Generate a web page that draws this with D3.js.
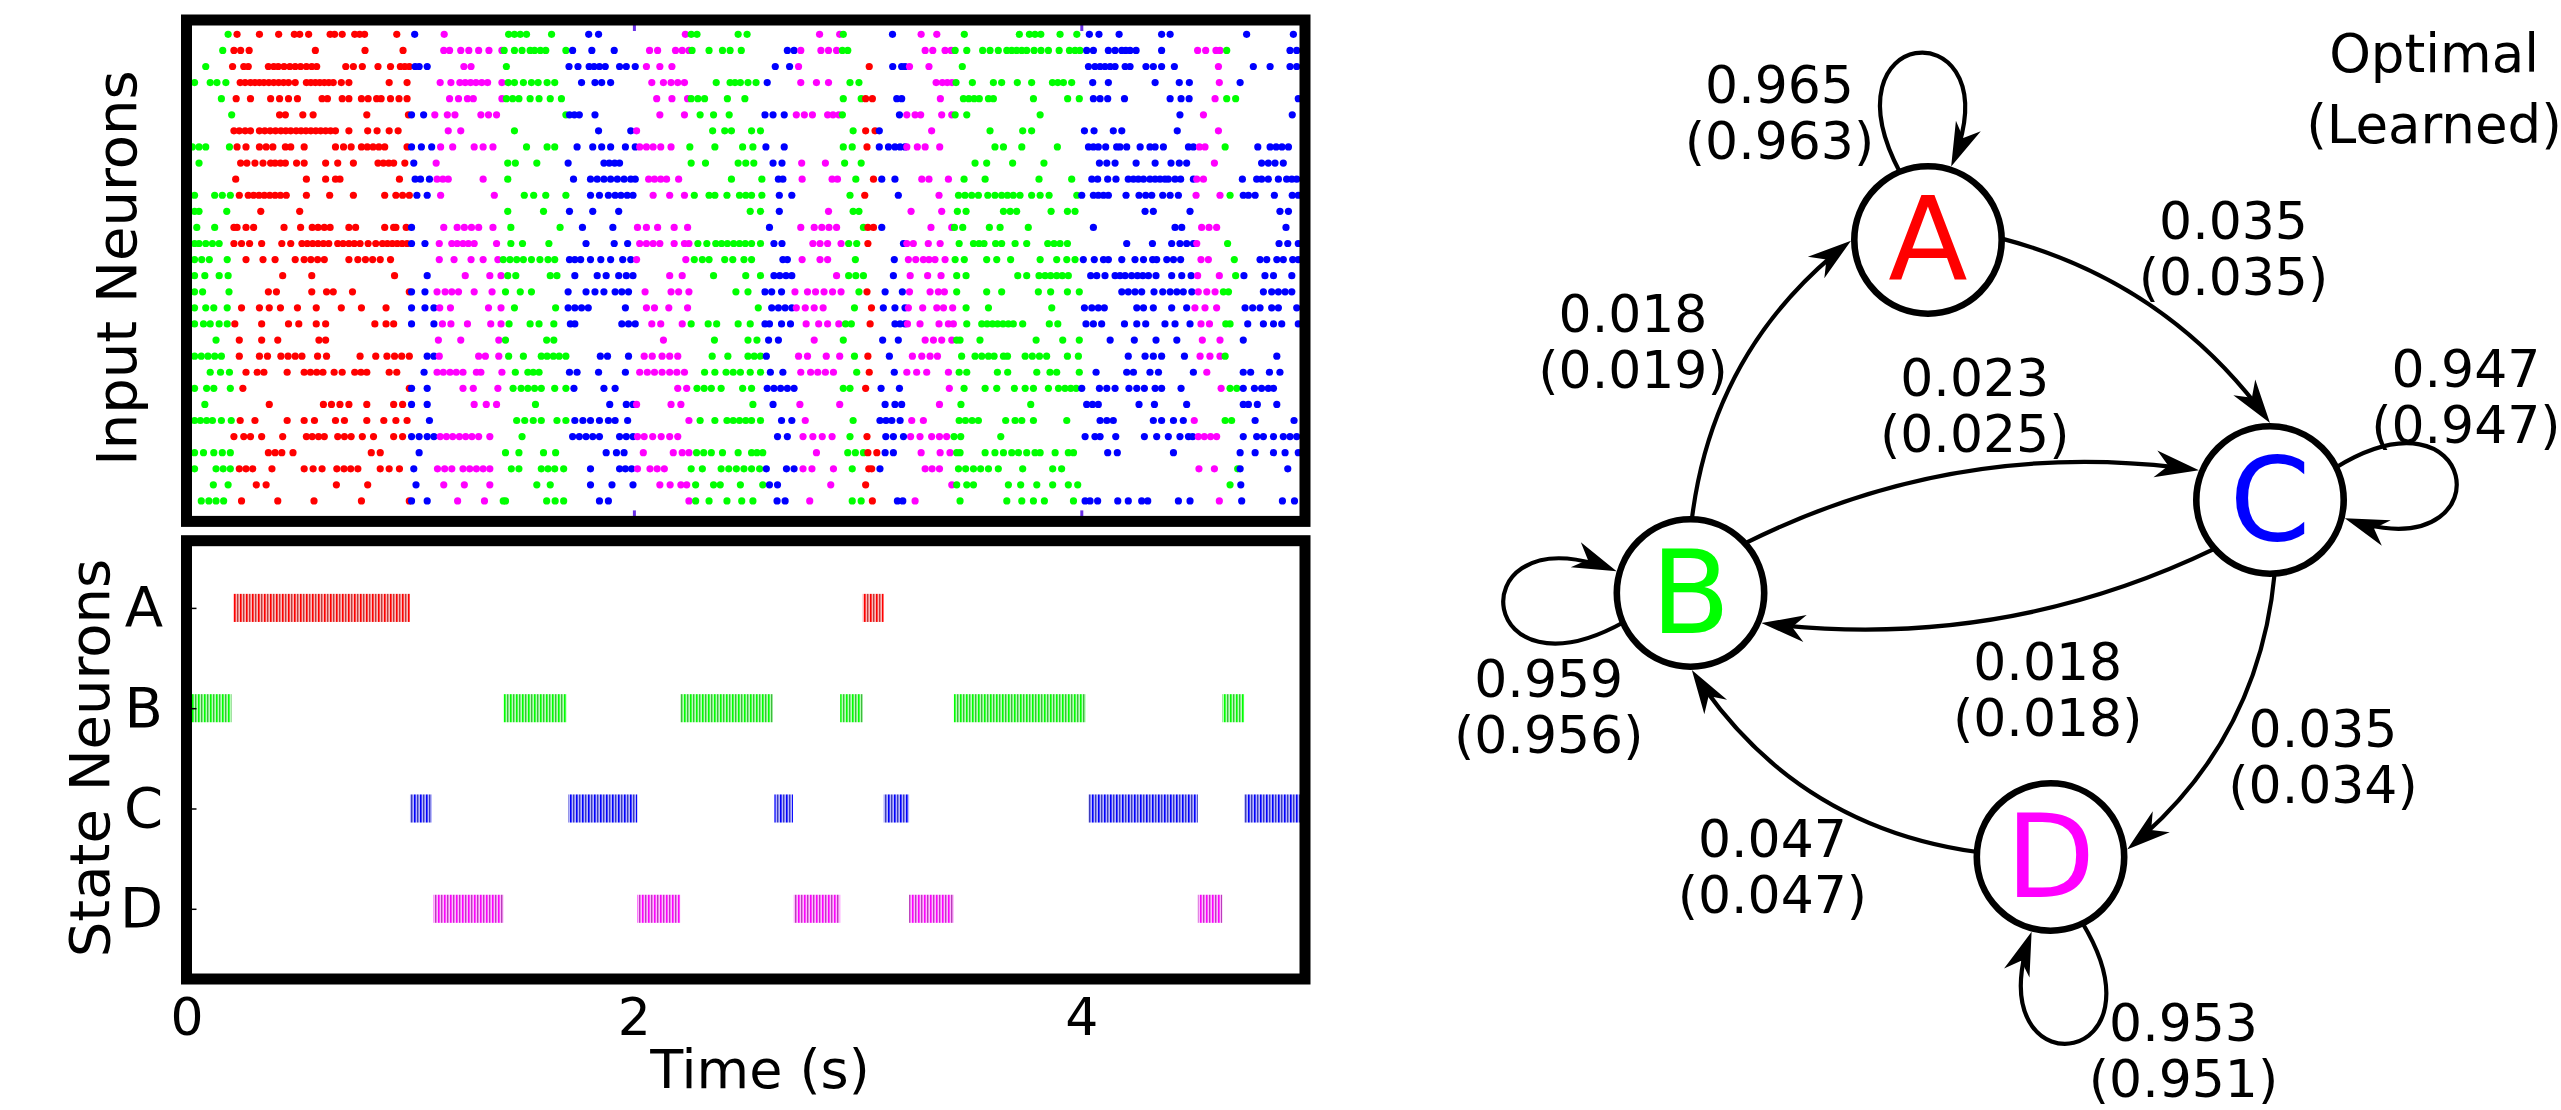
<!DOCTYPE html>
<html>
<head>
<meta charset="utf-8">
<script src="https://cdn.jsdelivr.net/npm/d3@7"></script>
<style>
  html, body { margin: 0; padding: 0; background: #fff; }
  svg { display: block; font-family: 'DejaVu Sans', sans-serif; }
</style>
</head>
<body>
<svg id="chart" width="2561" height="1110"></svg>
<script>
// ---------------- data ----------------
const stateNames = ['A', 'B', 'C', 'D'];
const stateColors = { A: '#ff0000', B: '#00ff00', C: '#0000ff', D: '#ff00ff' };

// hidden state driving the input neurons: [state, start ms, end ms]
const trueStates = [
  ['B', 0, 204], ['A', 204, 1002], ['C', 1002, 1110], ['D', 1110, 1413],
  ['B', 1413, 1701], ['C', 1701, 2009], ['D', 2009, 2250], ['B', 2250, 2580],
  ['C', 2580, 2720], ['D', 2720, 2929], ['B', 2929, 3029], ['A', 3029, 3090],
  ['C', 3090, 3217], ['D', 3217, 3430], ['B', 3430, 4000], ['C', 4000, 4503],
  ['D', 4503, 4628], ['B', 4628, 4705], ['C', 4705, 5000]
];

// input neuron spike times in ms, top row first
const inputSpikes = [
  [186,226,326,412,482,506,546,642,662,696,752,774,796,940,1020,1152,1440,1466,1492,1520,1632,1798,1842,2230,2256,2282,2466,2506,2830,2920,2936,3156,3284,3354,3477,3723,3768,3793,3819,3905,3980,4036,4079,4169,4359,4397,4739,4948],
  [162,212,242,280,576,798,968,1150,1176,1226,1262,1306,1352,1410,1420,1466,1500,1536,1556,1582,1606,1696,1726,1812,1912,2070,2106,2186,2216,2246,2260,2336,2396,2430,2480,2686,2716,2746,2836,2870,2906,2932,2956,3302,3336,3391,3418,3436,3488,3559,3592,3629,3667,3689,3711,3734,3756,3789,3820,3853,3901,3947,3972,3994,4024,4054,4121,4151,4181,4199,4218,4245,4359,4520,4556,4602,4620,4650,4933,4963],
  [86,206,256,276,366,390,410,436,462,486,510,536,560,582,712,746,786,856,912,956,976,996,1022,1040,1076,1240,1272,1430,1710,1750,1800,1822,1846,1872,1936,1966,2006,2056,2116,2170,2632,2696,2736,3052,3157,3197,3212,3232,3319,3468,4032,4061,4084,4106,4129,4151,4196,4218,4289,4322,4359,4416,4613,4769,4844,4933,4963],
  [36,106,136,176,240,262,286,306,326,346,368,390,412,434,456,486,536,556,576,596,616,636,656,692,726,906,986,1134,1182,1222,1246,1270,1294,1320,1346,1410,1438,1466,1506,1542,1572,1612,1646,1766,1826,1856,1896,2080,2132,2166,2196,2226,2368,2430,2452,2476,2510,2546,2596,2746,2816,2870,2966,3006,3351,3379,3401,3422,3440,3513,3607,3644,3714,3778,3871,3895,3920,3957,4051,4121,4330,4438,4483,4617,4710],
  [156,222,286,376,416,456,496,606,630,696,726,782,812,850,870,912,950,986,1176,1216,1256,1282,1410,1430,1458,1486,1536,1576,1626,1676,2102,2170,2240,2256,2286,2316,2418,2496,2936,3016,3036,3066,3175,3197,3370,3473,3497,3521,3544,3585,3607,3786,3939,3991,4054,4084,4118,4193,4397,4446,4482,4598,4650,4690,4970],
  [202,416,442,520,566,806,992,1006,1060,1110,1166,1200,1316,1350,1386,1696,1712,1734,1756,1826,2116,2226,2296,2356,2426,2586,2622,2672,2726,2762,2798,2866,2890,2916,2932,3187,3220,3257,3282,3376,3421,3436,3488,3816,4441,4546,4943],
  [212,236,262,286,326,350,374,398,422,444,466,490,512,534,556,578,600,622,644,666,726,810,852,906,946,1170,1226,1466,1842,1986,2012,2352,2406,2436,2526,2566,2980,3036,3078,3097,3331,3592,3738,3778,4014,4057,4143,4181,4429,4613],
  [26,56,86,192,226,266,326,356,386,442,466,526,666,702,736,782,808,834,860,886,986,1006,1050,1096,1136,1190,1286,1326,1370,1520,1612,1646,1746,1816,1856,1896,1962,2006,2026,2056,2086,2120,2166,2250,2362,2486,2532,2590,2672,2936,2976,3042,3097,3138,3167,3190,3212,3220,3267,3302,3367,3614,3652,3734,3893,4032,4054,4076,4109,4158,4173,4203,4263,4307,4330,4367,4479,4501,4528,4553,4643,4789,4844,4871,4897,4926],
  [56,242,270,306,342,376,396,420,442,492,526,622,676,746,856,880,904,926,976,1016,1116,1436,1470,1566,1706,1866,1890,1914,1936,2256,2320,2466,2500,2536,2622,2662,2750,2856,2942,3016,3525,3577,3693,3833,4081,4114,4151,4245,4330,4401,4438,4471,4595,4806,4836,4866,4903],
  [220,536,622,666,686,952,1022,1046,1086,1120,1146,1170,1326,1436,1730,1806,1836,1866,1896,1926,1956,1986,2006,2066,2092,2120,2146,2200,2436,2572,2646,2666,2752,2886,2910,2992,3071,3108,3167,3287,3319,3406,3476,3570,3811,3957,4047,4073,4118,4155,4210,4233,4255,4278,4307,4330,4352,4374,4389,4419,4444,4501,4516,4546,4720,4784,4806,4836,4881,4918,4941,4963],
  [36,126,160,196,236,276,300,324,348,372,396,420,446,536,640,746,886,936,966,996,1030,1076,1136,1376,1510,1552,1606,1696,1806,1846,1886,1916,1942,1970,1996,2086,2160,2226,2270,2336,2362,2416,2472,2500,2526,2572,2650,2706,2966,3032,3182,3364,3451,3480,3510,3540,3582,3614,3644,3670,3696,3726,3778,3816,3856,3980,4002,4054,4076,4099,4121,4200,4258,4288,4315,4364,4397,4434,4513,4620,4665,4724,4747,4777,4863,4943,4970],
  [36,56,180,332,506,1436,1596,1712,1816,1932,2520,2566,2650,2870,2980,3006,3239,3376,3446,3485,3652,3682,3711,3865,3938,3972,4285,4322,4486,4888,4926],
  [46,126,212,226,266,300,436,510,562,588,616,642,726,756,886,926,936,982,1006,1150,1210,1242,1274,1306,1370,1450,1670,1770,1906,2016,2056,2106,2180,2240,2606,2746,2806,2840,2872,2906,3026,3046,3071,3108,3328,3421,3433,3470,3589,3637,3763,4054,4419,4449,4538,4571,4605,4915],
  [36,56,86,116,146,212,246,282,336,426,466,516,540,564,588,612,636,676,700,726,750,776,812,846,876,898,920,942,964,986,1006,1066,1130,1186,1210,1236,1260,1286,1386,1450,1502,1620,1786,1912,1972,2026,2056,2086,2116,2180,2226,2246,2286,2326,2366,2392,2418,2446,2472,2498,2526,2566,2626,2662,2800,2832,2866,2926,2960,2996,3046,3205,3220,3249,3316,3369,3454,3518,3543,3565,3617,3644,3704,3756,3850,3878,3905,3938,4203,4318,4404,4441,4471,4501,4516,4654,4884,4923,4970],
  [36,68,102,182,266,342,396,486,526,556,586,616,726,766,800,832,866,912,1130,1196,1272,1326,1392,1416,1446,1476,1506,1542,1580,1616,1646,1712,1736,1762,1806,1852,1896,1950,1986,2012,2232,2270,2306,2336,2406,2442,2492,2526,2666,2686,2752,2832,2866,2990,3164,3227,3260,3294,3319,3346,3391,3436,3477,3577,3622,3684,3816,3890,3935,3972,4009,4058,4099,4121,4181,4240,4278,4319,4337,4382,4412,4444,4535,4568,4684,4799,4829,4874,4903,4945,4970],
  [36,82,146,186,430,560,930,1076,1246,1356,1406,1436,1472,1626,1656,1736,1836,1876,1932,1966,1996,2160,2216,2356,2500,2566,2626,2652,2680,2706,2906,2960,2992,3026,3160,3235,3313,3373,3443,3485,3716,3756,3811,3838,3863,3890,3915,3942,4042,4069,4106,4151,4173,4196,4225,4251,4275,4300,4334,4404,4449,4491,4520,4617,4690,4727,4821,4859,4941],
  [36,72,190,366,402,560,626,656,742,996,1006,1066,1120,1156,1186,1216,1286,1366,1426,1492,1542,1706,1786,1826,1866,1916,1946,1976,2050,2166,2200,2246,2456,2510,2586,2616,2660,2720,2776,2812,2850,2888,2926,3006,3042,3123,3200,3232,3324,3361,3388,3443,3577,3644,3808,3863,3938,3991,4181,4210,4240,4270,4325,4364,4397,4427,4456,4494,4523,4561,4598,4635,4658,4814,4851,4881,4911,4941],
  [36,86,122,182,246,326,370,420,496,580,692,782,892,1006,1066,1106,1132,1180,1350,1406,1466,1650,1706,1736,1766,1796,1962,2056,2092,2156,2240,2556,2616,2646,2676,2706,2726,2766,2806,2846,2986,3062,3115,3167,3212,3227,3291,3354,3384,3425,3485,3585,3868,4014,4047,4076,4103,4248,4278,4322,4404,4471,4508,4553,4605,4732,4766,4799,4851,4881,4963],
  [36,76,106,146,182,216,336,456,502,580,622,842,892,926,1006,1106,1144,1182,1256,1360,1406,1442,1536,1576,1642,1716,1736,1946,1976,2006,2080,2120,2216,2256,2332,2370,2466,2520,2586,2606,2660,2700,2770,2826,2866,2916,2946,2972,3056,3167,3190,3212,3223,3279,3364,3406,3428,3488,3555,3579,3603,3626,3650,3674,3696,3738,3857,3895,4021,4054,4091,4193,4248,4288,4374,4419,4486,4535,4573,4646,4665,4744,4814,4859,4896,4970],
  [132,236,336,408,592,622,1126,1226,1396,1426,1610,1642,2132,2360,2510,2550,2602,2646,2806,2936,3112,3182,3302,3339,3376,3421,3443,3458,3547,3798,3917,3991,4129,4237,4334,4427,4541,4620,4724],
  [36,66,96,126,156,236,326,362,422,454,486,516,586,626,776,846,896,930,962,996,1076,1106,1130,1306,1336,1396,1440,1506,1586,1612,1640,1666,1696,1850,1882,1976,2046,2082,2126,2160,2196,2350,2420,2510,2538,2566,2592,2736,2776,2860,2920,2986,3046,3142,3245,3287,3324,3357,3465,3525,3555,3585,3610,3652,3670,3749,3781,3813,3845,3938,3987,4210,4285,4322,4359,4461,4531,4575,4620,4643,4874],
  [106,152,192,266,316,346,450,526,554,582,610,660,696,752,780,806,906,940,1062,1120,1148,1178,1206,1236,1296,1316,1410,1470,1526,1550,1576,1712,1746,1842,1962,2026,2060,2092,2126,2160,2192,2226,2316,2362,2412,2444,2476,2520,2566,2610,2666,2746,2790,2822,2856,2892,2996,3052,3164,3220,3264,3309,3406,3454,3488,3625,3671,3801,3860,3890,3991,4066,4203,4233,4307,4345,4501,4561,4724,4757,4841,4888],
  [36,90,122,196,252,996,1006,1076,1236,1282,1392,1460,1496,1526,1556,1586,1646,1696,1732,1866,1916,2196,2236,2282,2314,2346,2390,2486,2526,2596,2626,2656,2686,2716,2936,2966,3036,3105,3187,3410,3476,3570,3622,3701,3749,3786,3853,3898,3927,3953,3977,4002,4081,4114,4151,4213,4248,4282,4330,4359,4446,4625,4665,4695,4724,4774,4806,4836,4859],
  [82,370,612,648,686,726,806,926,966,1006,1076,1286,1340,1386,1560,1892,1966,1996,2012,2166,2210,2532,2622,2742,2920,3123,3167,3197,3366,3462,3774,4024,4050,4076,4258,4327,4471,4724,4747,4787,4874],
  [36,62,90,116,156,200,240,306,450,526,572,666,706,806,882,936,986,1086,1476,1512,1550,1586,1656,1696,1736,1772,1806,1846,1886,1916,1972,2246,2296,2362,2416,2444,2472,2500,2526,2566,2660,2706,2766,2980,3100,3127,3153,3190,3242,3294,3454,3482,3512,3540,3662,3704,3734,3786,3935,4084,4114,4143,4322,4359,4412,4456,4505,4643,4672,4777,4951],
  [212,256,286,336,430,536,562,590,616,676,706,736,786,836,926,966,1006,1040,1076,1106,1134,1162,1190,1220,1248,1276,1306,1356,1500,1726,1756,1786,1816,1846,1936,1966,1996,2016,2046,2084,2122,2160,2196,2642,2686,2756,2800,2842,2886,2966,3042,3126,3160,3205,3237,3279,3331,3366,3398,3431,3461,3640,4017,4061,4084,4154,4282,4337,4389,4441,4479,4498,4523,4550,4578,4605,4724,4784,4814,4859,4903,4933,4963],
  [36,76,122,160,196,366,396,426,476,826,866,1040,1426,1486,1596,1650,1876,1922,1956,2042,2176,2216,2246,2280,2312,2346,2396,2466,2526,2550,2576,2816,2956,2990,3026,3046,3086,3123,3160,3284,3369,3413,3443,3458,3570,3614,3652,3689,3719,3756,3793,3816,3883,3942,3965,4118,4161,4412,4710,4777,4859,4911,4970],
  [36,132,164,196,236,266,296,382,526,566,606,672,704,734,766,866,906,952,1016,1122,1154,1186,1236,1266,1296,1326,1356,1452,1486,1586,1616,1646,1686,1806,1936,1962,1990,2016,2072,2104,2136,2256,2306,2390,2424,2458,2492,2526,2562,2592,2682,2716,2756,2796,2892,2976,3050,3063,3100,3302,3333,3366,3451,3483,3518,3550,3585,3629,3738,3872,3912,4526,4595,4699,4710,4923],
  [120,186,312,356,670,810,1026,1150,1242,1356,1566,1626,1806,1902,1996,2116,2162,2210,2236,2276,2356,2386,2476,2576,2606,2642,2880,3036,3421,3443,3488,3518,3674,3729,3801,3872,3942,3984,4665,4713],
  [66,100,132,166,246,408,570,782,996,1006,1076,1212,1332,1416,1426,1610,1648,1686,1846,1886,2246,2276,2336,2416,2482,2532,2640,2676,2786,2976,3016,3066,3178,3202,3257,3458,3667,3734,3786,3835,3965,4017,4039,4073,4163,4210,4270,4297,4434,4486,4617,4717,4899,4953]
];

// state neuron bursts, [start s, end s]
const burstsA = [[0.209, 0.999], [3.023, 3.117]];
const burstsB = [[0.0, 0.201], [1.417, 1.699], [2.207, 2.621], [2.922, 3.023], [3.430, 4.020], [4.630, 4.728]];
const burstsC = [[0.999, 1.097], [1.706, 2.015], [2.628, 2.711], [3.117, 3.230], [4.032, 4.521], [4.728, 5.0]];
const burstsD = [[1.104, 1.417], [2.015, 2.207], [2.715, 2.922], [3.230, 3.430], [4.521, 4.630]];

const timeTicks = [0, 2, 4];

// transition probabilities: optimal and (learned)
const transitions = [
  { from: 'A', to: 'A', optimal: 0.965, learned: 0.963 },
  { from: 'A', to: 'C', optimal: 0.035, learned: 0.035 },
  { from: 'B', to: 'A', optimal: 0.018, learned: 0.019 },
  { from: 'B', to: 'B', optimal: 0.959, learned: 0.956 },
  { from: 'B', to: 'C', optimal: 0.023, learned: 0.025 },
  { from: 'C', to: 'B', optimal: 0.018, learned: 0.018 },
  { from: 'C', to: 'C', optimal: 0.947, learned: 0.947 },
  { from: 'C', to: 'D', optimal: 0.035, learned: 0.034 },
  { from: 'D', to: 'B', optimal: 0.047, learned: 0.047 },
  { from: 'D', to: 'D', optimal: 0.953, learned: 0.951 }
];

// ---------------- layout ----------------
const svg = d3.select('#chart');
const panelX = [186.5, 1305];
const inputY = [20, 521.4];
const stateY = [540.7, 979];
const frameWidth = 11;

// graph layout (local px, origin at B.x / A.y)
const graphOrigin = [1690.5, 240];
const nodeAt = { A: [237.5, 0], B: [0, 353], C: [579.5, 260], D: [360, 617] };
const nodeR = 73.7, nodeStroke = 6.6, nodeOuter = 77;
// edges between states: exit angle, entry angle (deg, screen), bend
const edgeShape = {
  'A-C': { out: -1.3, in: -90, bend: 0.18 },
  'B-A': { out: -89, in: 179.5, bend: 0.21 },
  'B-C': { out: -42.5, in: 202.7, bend: 0.157 },
  'C-B': { out: 138.4, in: 23, bend: 0.147 },
  'C-D': { out: 86.3, in: -5.6, bend: 0.21 },
  'D-B': { out: 183.9, in: 89, bend: 0.23 },
  'A-A': { dir: -92.5 }, 'B-B': { dir: 176.4 }, 'C-C': { dir: -6.2 }, 'D-D': { dir: 84.2 }
};
const labelAt = {
  'A-A': [89, -137], 'A-C': [543, -1], 'B-A': [-57.5, 92], 'B-C': [284.2, 156],
  'C-C': [775.4, 147], 'B-B': [-141.8, 457], 'C-B': [357.2, 440], 'C-D': [632.5, 507],
  'D-B': [81.9, 617], 'D-D': [493, 801]
};

// ---------------- scales ----------------
const x = d3.scaleLinear().domain([0, 5]).range(panelX);
const yIn = d3.scaleLinear().domain([-0.89, 30.27]).range(inputY);
const yState = d3.scaleLinear().domain([-0.67, 3.7]).range(stateY);
const fmt = d3.format('.3f');

function stateAt(ms) {
  const seg = trueStates.find(s => ms >= s[1] && ms < s[2]);
  return seg ? seg[0] : 'C';
}

svg.append('rect').attr('width', 2561).attr('height', 1110).attr('fill', '#fff');
const defs = svg.append('defs');

defs.append('clipPath').attr('id', 'clip-in').append('rect')
  .attr('x', panelX[0]).attr('y', inputY[0])
  .attr('width', panelX[1] - panelX[0]).attr('height', inputY[1] - inputY[0]);
defs.append('clipPath').attr('id', 'clip-state').append('rect')
  .attr('x', panelX[0]).attr('y', stateY[0])
  .attr('width', panelX[1] - panelX[0]).attr('height', stateY[1] - stateY[0]);

// thin spike-line texture for the state neuron bursts
stateNames.forEach(s => {
  const c = stateColors[s];
  const p = defs.append('pattern').attr('id', 'burst-' + s)
    .attr('patternUnits', 'userSpaceOnUse').attr('width', 6).attr('height', 10);
  p.append('rect').attr('width', 6).attr('height', 10).attr('fill', d3.interpolateRgb(c, '#fff')(0.72));
  p.append('rect').attr('x', 0).attr('width', 1.6).attr('height', 10).attr('fill', c);
  p.append('rect').attr('x', 3).attr('width', 1.4).attr('height', 10).attr('fill', d3.interpolateRgb(c, '#777')(0.5));
});

// ---------------- input raster ----------------
const dots = inputSpikes.flatMap((row, i) => row.map(ms => ({ row: i, ms })));
svg.append('g').attr('clip-path', 'url(#clip-in)')
  .selectAll('circle').data(dots).join('circle')
  .attr('cx', d => x(d.ms / 1000))
  .attr('cy', d => yIn(d.row))
  .attr('r', 3.6)
  .attr('fill', d => stateColors[stateAt(d.ms)]);

// small inward ticks on the raster
[[inputY[0], d3.axisTop], [inputY[1], d3.axisBottom]].forEach(([yy, ax]) => {
  svg.append('g').attr('transform', `translate(0,${yy})`)
    .call(ax(x).tickValues(timeTicks).tickSizeInner(-11).tickSizeOuter(0).tickFormat(''))
    .call(g => g.select('.domain').remove())
    .call(g => g.selectAll('.tick line').attr('stroke', '#6a30e8').attr('stroke-width', 3));
});

// ---------------- state neurons ----------------
const bursts = [
  ...burstsA.map(b => ({ s: 'A', b })), ...burstsB.map(b => ({ s: 'B', b })),
  ...burstsC.map(b => ({ s: 'C', b })), ...burstsD.map(b => ({ s: 'D', b }))
];
svg.append('g').attr('clip-path', 'url(#clip-state)')
  .selectAll('rect').data(bursts).join('rect')
  .attr('x', d => x(d.b[0]))
  .attr('width', d => x(d.b[1]) - x(d.b[0]))
  .attr('y', d => yState(stateNames.indexOf(d.s) - 0.14))
  .attr('height', d => yState(0.28) - yState(0))
  .attr('fill', d => `url(#burst-${d.s})`);

svg.append('g').attr('transform', `translate(${panelX[0]},0)`)
  .call(d3.axisLeft(yState).tickValues([0, 1, 2, 3]).tickFormat(i => stateNames[i])
    .tickSizeInner(-10).tickSizeOuter(0).tickPadding(23.5))
  .call(g => g.select('.domain').remove())
  .call(g => g.selectAll('.tick line').attr('stroke', '#000').attr('stroke-width', 1.5))
  .call(g => g.selectAll('text').attr('fill', '#000').style('font-size', '56px')
    .style('font-family', 'DejaVu Sans'));

svg.append('g').attr('transform', `translate(0,${stateY[1]})`)
  .call(d3.axisBottom(x).tickValues(timeTicks).tickFormat(d3.format('d')).tickSize(0).tickPadding(19.5))
  .call(g => g.select('.domain').remove())
  .call(g => g.selectAll('text').attr('fill', '#000').style('font-size', '52px')
    .style('font-family', 'DejaVu Sans'));

// frames
[inputY, stateY].forEach(yy => {
  svg.append('rect')
    .attr('x', panelX[0]).attr('y', yy[0])
    .attr('width', panelX[1] - panelX[0]).attr('height', yy[1] - yy[0])
    .attr('fill', 'none').attr('stroke', '#000').attr('stroke-width', frameWidth);
});

// axis titles
svg.append('text').attr('transform', 'translate(136,268) rotate(-90)')
  .attr('text-anchor', 'middle').style('font-size', '56px').text('Input Neurons');
svg.append('text').attr('transform', 'translate(109.4,758) rotate(-90)')
  .attr('text-anchor', 'middle').style('font-size', '56px').text('State Neurons');
svg.append('text').attr('x', 760).attr('y', 1088)
  .attr('text-anchor', 'middle').style('font-size', '54px').text('Time (s)');

// ---------------- transition graph ----------------
const g = svg.append('g').attr('transform', `translate(${graphOrigin[0]},${graphOrigin[1]})`);
const rad = a => a * Math.PI / 180;
const polar = (c, r, a) => [c[0] + r * Math.cos(rad(a)), c[1] + r * Math.sin(rad(a))];
const lerp = (p, q, t) => [p[0] + (q[0] - p[0]) * t, p[1] + (q[1] - p[1]) * t];
const dist = (p, q) => Math.hypot(p[0] - q[0], p[1] - q[1]);
const arrowLen = 44, arrowHalf = 13.5, arrowNotch = 31, trimLen = 22;
const LOOP_K = 247.6, LOOP_PHI = 23.8, LOOP_SPREAD = 20;

function edgeGeometry(e) {
  const sh = edgeShape[e.from + '-' + e.to];
  const s = nodeAt[e.from], t = nodeAt[e.to];
  if (e.from === e.to) {
    const S = polar(s, nodeOuter - 4, sh.dir - LOOP_SPREAD);
    const E = polar(s, nodeOuter, sh.dir + LOOP_SPREAD);
    const c1 = polar(s, LOOP_K, sh.dir - LOOP_PHI);
    const c2 = polar(s, LOOP_K, sh.dir + LOOP_PHI);
    const at = u => {
      const a = lerp(S, c1, u), b = lerp(c1, c2, u), c = lerp(c2, E, u);
      const ab = lerp(a, b, u), bc = lerp(b, c, u);
      return { a, ab, p: lerp(ab, bc, u) };
    };
    let u = 1;
    while (u > 0.5 && dist(at(u).p, E) < trimLen) u -= 0.002;
    const sp = at(u);
    return { path: `M${S}C${sp.a} ${sp.ab} ${sp.p}`, tip: E, ang: Math.atan2(E[1] - c2[1], E[0] - c2[0]) };
  }
  const P0 = polar(s, nodeOuter - 4, sh.out);
  const P3 = polar(t, nodeOuter, sh.in);
  const d = [P3[0] - P0[0], P3[1] - P0[1]];
  const mid = lerp(P0, P3, 0.5);
  const C = [mid[0] + sh.bend * d[1], mid[1] - sh.bend * d[0]];
  const at = u => lerp(lerp(P0, C, u), lerp(C, P3, u), u);
  let u = 1;
  while (u > 0.5 && dist(at(u), P3) < trimLen) u -= 0.002;
  return { path: `M${P0}Q${lerp(P0, C, u)} ${at(u)}`, tip: P3, ang: Math.atan2(P3[1] - C[1], P3[0] - C[0]) };
}

const geo = transitions.map(e => ({ e, ...edgeGeometry(e) }));
g.selectAll('path.edge').data(geo).join('path').attr('class', 'edge')
  .attr('d', d => d.path).attr('fill', 'none').attr('stroke', '#000').attr('stroke-width', 4.2);
g.selectAll('path.head').data(geo).join('path').attr('class', 'head')
  .attr('d', `M0,0L${-arrowLen},${-arrowHalf}L${-arrowNotch},0L${-arrowLen},${arrowHalf}Z`)
  .attr('transform', d => `translate(${d.tip}) rotate(${d.ang * 180 / Math.PI})`)
  .attr('fill', '#000');

const nodeG = g.selectAll('g.node').data(stateNames).join('g').attr('class', 'node')
  .attr('transform', s => `translate(${nodeAt[s]})`);
nodeG.append('circle').attr('r', nodeR).attr('fill', '#fff')
  .attr('stroke', '#000').attr('stroke-width', nodeStroke);
nodeG.append('text').attr('text-anchor', 'middle').attr('y', 40)
  .style('font-size', '116px').attr('fill', s => stateColors[s]).text(s => s);

const lab = g.selectAll('text.prob').data(transitions).join('text').attr('class', 'prob')
  .attr('text-anchor', 'middle').style('font-size', '52px')
  .attr('transform', e => `translate(${labelAt[e.from + '-' + e.to]})`);
lab.append('tspan').attr('x', 0).attr('y', 0).text(e => fmt(e.optimal));
lab.append('tspan').attr('x', 0).attr('y', 56).text(e => `(${fmt(e.learned)})`);

// legend, cut at the right edge as in the original figure
const key = svg.append('text').attr('text-anchor', 'middle').style('font-size', '53px')
  .attr('transform', 'translate(2434,71.5)');
key.append('tspan').attr('x', 0).attr('y', 0).text('Optimal');
key.append('tspan').attr('x', 0).attr('y', 71.5).text('(Learned)');
</script>
</body>
</html>
